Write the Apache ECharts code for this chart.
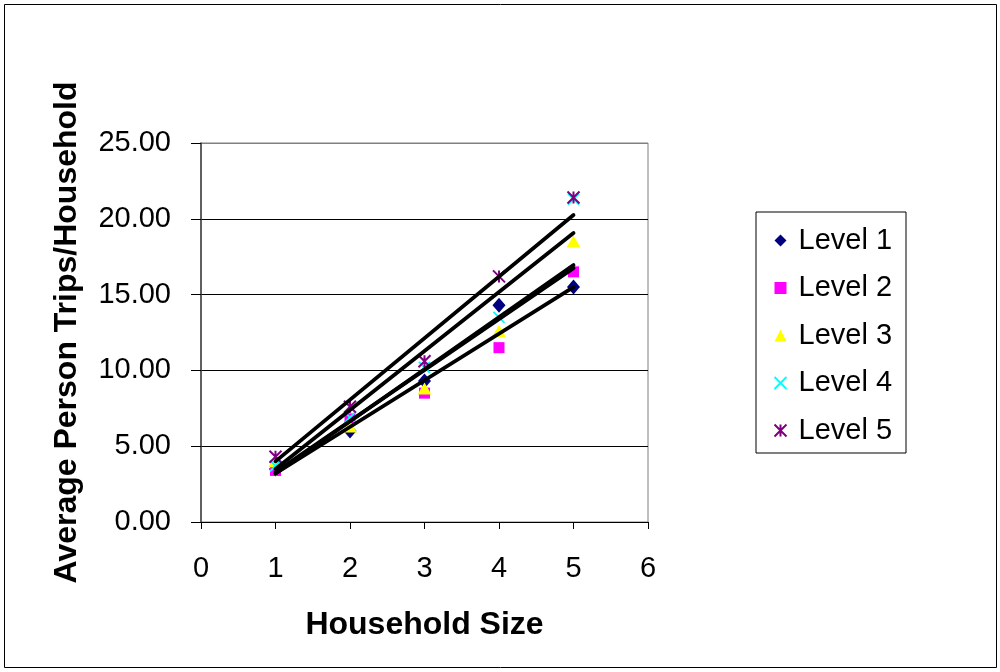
<!DOCTYPE html>
<html>
<head>
<meta charset="utf-8">
<title>Average Person Trips by Household Size</title>
<script src="https://cdn.jsdelivr.net/npm/echarts@6/dist/echarts.min.js"></script>
<style>
  html, body { margin: 0; padding: 0; background: #fff; }
  #chart { width: 1000px; height: 672px; }
</style>
</head>
<body>
<div id="chart"></div>
<script>
// Household sizes on the x axis
const householdSizes = [1, 2, 3, 4, 5];
const xTicks = [0, 1, 2, 3, 4, 5, 6];
const yTicks = [0, 5, 10, 15, 20, 25];

// Average person trips per household for each level
const level1 = [3.5, 6.0, 9.3, 14.3, 15.5];
const level2 = [3.4, 6.8, 8.5, 11.5, 16.5];
const level3 = [4.0, 6.3, 8.8, 12.6, 18.5];
const level4 = [3.7, 6.9, 10.2, 13.5, 21.3];
const level5 = [4.3, 7.6, 10.6, 16.2, 21.4];

// Linear trend lines: value at household size 1 and at household size 5
const trendX = [1, 5];
const trend1 = [3.2, 15.5];
const trend2 = [3.3, 16.75];
const trend3 = [3.2, 16.95];
const trend4 = [3.5, 19.06];
const trend5 = [4.0, 20.25];

const levelNames = ['Level 1', 'Level 2', 'Level 3', 'Level 4', 'Level 5'];

const xShape = 'path://M0,0L10,10M10,0L0,10';
const starShape = 'path://M0,0L10,10M10,0L0,10M5,0L5,10';

const pairs = (xs, ys) => xs.map((x, i) => [x, ys[i]]);

const scatterDefs = [
  { name: levelNames[0], data: level1, symbol: 'diamond', size: [13, 15], style: { color: '#000080' } },
  { name: levelNames[1], data: level2, symbol: 'rect', size: 11, style: { color: '#FF00FF' } },
  { name: levelNames[2], data: level3, symbol: 'triangle', size: [14, 12], style: { color: '#FFFF00' } },
  { name: levelNames[3], data: level4, symbol: xShape, size: 11, style: { color: 'none', borderColor: '#00FFFF', borderWidth: 2 } },
  { name: levelNames[4], data: level5, symbol: starShape, size: 12, style: { color: 'none', borderColor: '#800080', borderWidth: 2 } }
];

const scatterSeries = scatterDefs.map((d, i) => ({
  name: d.name,
  type: 'scatter',
  data: pairs(householdSizes, d.data),
  symbol: d.symbol,
  symbolSize: d.size,
  itemStyle: Object.assign({ opacity: 1 }, d.style),
  z: 2 + i,
  silent: true
}));

const trendSeries = [trend1, trend2, trend3, trend4, trend5].map((t, i) => ({
  name: 'trend' + (i + 1),
  type: 'line',
  data: pairs(trendX, t),
  symbol: 'none',
  lineStyle: { color: '#000', width: 3.8, cap: 'round' },
  z: 10,
  silent: true
}));

const chart = echarts.init(document.getElementById('chart'), null, { renderer: 'canvas' });

const labelFont = 'Liberation Sans, Arial, sans-serif';

chart.setOption({
  animation: false,
  backgroundColor: '#ffffff',
  graphic: [{
    type: 'rect',
    shape: { x: 4.5, y: 4.5, width: 992, height: 663 },
    style: { fill: 'none', stroke: '#000', lineWidth: 1 },
    silent: true,
    z: -1
  }],
  grid: {
    left: 201, top: 143, width: 447, height: 379,
    show: true, borderColor: '#808080', borderWidth: 1, backgroundColor: '#fff'
  },
  legend: {
    data: levelNames,
    orient: 'vertical',
    left: 756, top: 212,
    padding: [14, 14, 8, 16],
    itemGap: 18.5,
    itemWidth: 12, itemHeight: 12,
    backgroundColor: '#fff',
    borderColor: '#000', borderWidth: 1, borderRadius: 0,
    textStyle: {
      fontFamily: labelFont, fontSize: 29, color: '#000',
      lineHeight: 29, padding: [0, 0, 0, 7]
    },
    selectedMode: false
  },
  xAxis: {
    type: 'value',
    min: xTicks[0], max: xTicks[xTicks.length - 1], interval: 1,
    name: 'Household Size',
    nameLocation: 'middle',
    nameGap: 87,
    nameTextStyle: { fontFamily: labelFont, fontSize: 32, fontWeight: 'bold', color: '#000' },
    axisLine: { show: true, onZero: false, lineStyle: { color: '#000', width: 1 } },
    axisTick: { show: true, inside: false, length: 7, lineStyle: { color: '#000' } },
    axisLabel: { fontFamily: labelFont, fontSize: 29, color: '#000', margin: 32 },
    splitLine: { show: false }
  },
  yAxis: {
    type: 'value',
    min: yTicks[0], max: yTicks[yTicks.length - 1], interval: 5,
    name: 'Average Person Trips/Household',
    nameLocation: 'middle',
    nameGap: 118,
    nameTextStyle: { fontFamily: labelFont, fontSize: 32, fontWeight: 'bold', color: '#000' },
    axisLine: { show: true, onZero: false, lineStyle: { color: '#404040', width: 1.5 } },
    axisTick: { show: true, inside: false, length: 10, lineStyle: { color: '#000' } },
    axisLabel: {
      fontFamily: labelFont, fontSize: 29, color: '#000', margin: 30,
      formatter: v => v.toFixed(2)
    },
    splitLine: {
      show: true,
      lineStyle: { color: ['#000', '#000', '#000', '#000', '#000', '#808080'], width: 1 }
    }
  },
  series: scatterSeries.concat(trendSeries)
});
</script>
</body>
</html>
